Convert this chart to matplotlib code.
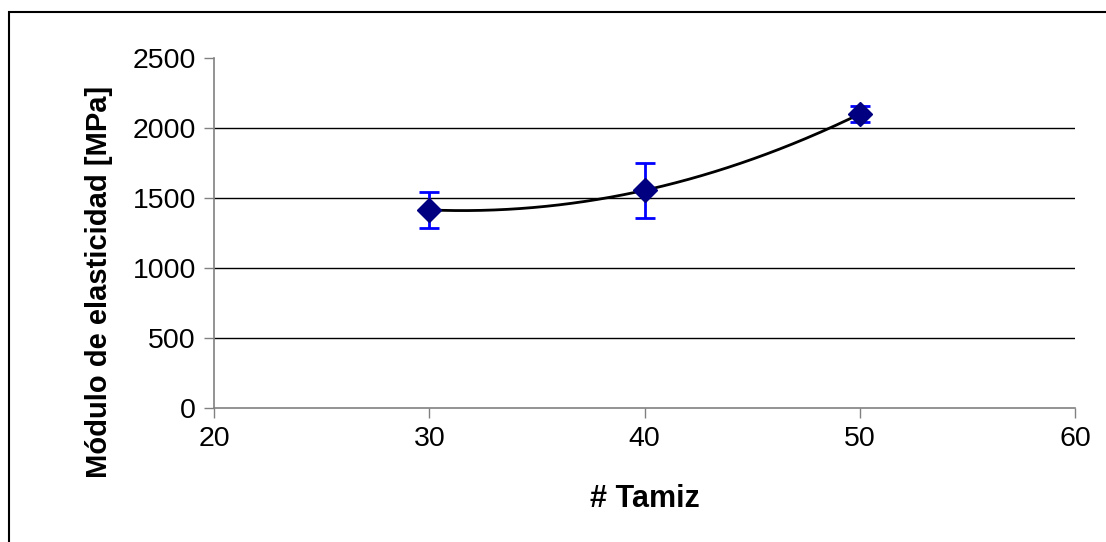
import numpy as np
import matplotlib.pyplot as plt
from matplotlib.patches import Rectangle

plt.rcParams['font.family'] = ['Liberation Sans', 'DejaVu Sans']

tamiz = [30, 40, 50]
modulo = [1415, 1555, 2100]
desv = [130, 198, 58]
y_ticks = [0, 500, 1000, 1500, 2000, 2500]
x_ticks = [20, 30, 40, 50, 60]

fig = plt.figure(figsize=(11.06, 5.42), dpi=100)
ax = fig.add_axes([0.1935, 0.2472, 0.7785, 0.6458])

# horizontal gridlines (inner ticks only)
for v in y_ticks[1:-1]:
    ax.axhline(v, color='black', lw=1, zorder=1)

# quadratic trend line through the means
coef = np.polyfit(tamiz, modulo, 2)
xs = np.linspace(tamiz[0], tamiz[-1], 200)
ax.plot(xs, np.polyval(coef, xs), color='black', lw=2, zorder=2)

ax.errorbar(tamiz, modulo, yerr=desv, fmt='none', ecolor='#0000FF',
            elinewidth=2, capsize=7, capthick=2, zorder=3)
ax.plot(tamiz, modulo, 'D', color='#000080', ms=12, zorder=4)

ax.set_xlim(20, 60)
ax.set_ylim(0, 2500)
ax.set_xticks(x_ticks)
ax.set_yticks(y_ticks)
ax.tick_params(direction='out', length=7, width=1, color='#808080',
               labelsize=20.5, pad=6)
for s in ['top', 'right']:
    ax.spines[s].set_visible(False)
for s in ['left', 'bottom']:
    ax.spines[s].set_color('#808080')
    ax.spines[s].set_linewidth(1.2)

ax.set_xlabel('# Tamiz', fontsize=22, fontweight='bold', labelpad=23)
ax.set_ylabel('Módulo de elasticidad [MPa]', fontsize=21, fontweight='bold')
ax.yaxis.set_label_coords(-0.117, 0.36)

# chart frame
fig.patches.append(Rectangle((9 / 1106, -0.1), 1.2, 1.1 - 12 / 542,
                             transform=fig.transFigure, fill=False,
                             edgecolor='black', lw=1.5))

fig.savefig('out.png', dpi=100)
